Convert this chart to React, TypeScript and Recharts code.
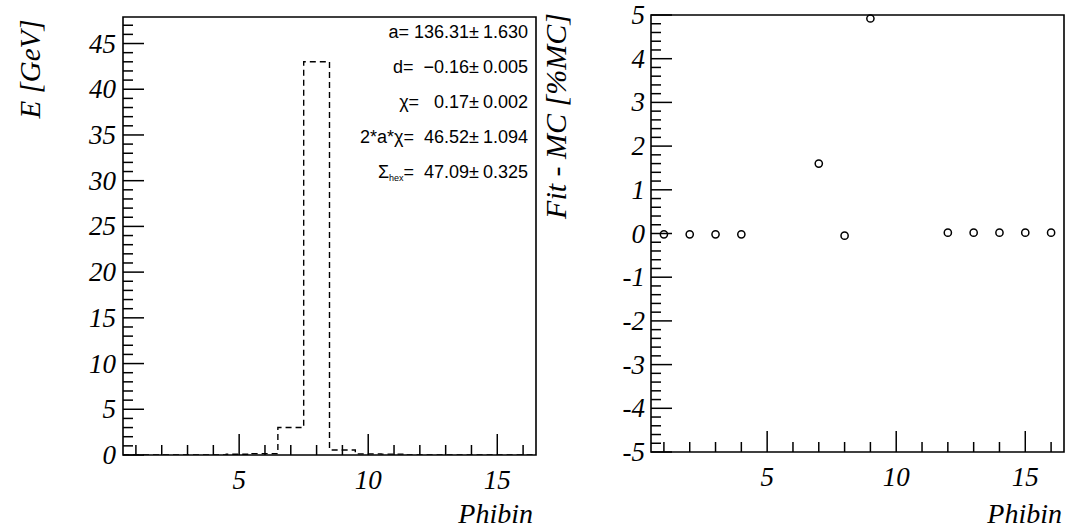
import React from 'react'
import { LineChart, Line, ScatterChart, Scatter, XAxis, YAxis, ReferenceArea } from 'recharts'

// energy per phi bin (left histogram)
const phiBins = [1, 2, 3, 4, 5, 6, 7, 8, 9, 10, 11, 12, 13, 14, 15, 16]
const binEnergy = [0, 0, 0, 0, 0.08, 0.15, 3.0, 43.0, 0.55, 0.12, 0.1, 0, 0, 0, 0, 0]

// fit - MC residuals in %MC (right panel)
const resBins = [1, 2, 3, 4, 7, 8, 9, 12, 13, 14, 15, 16]
const resValues = [-0.02, -0.02, -0.02, -0.02, 1.6, -0.05, 4.92, 0.02, 0.02, 0.02, 0.02, 0.02]

// axis ticks
const eTicks = [0, 1, 2, 3, 4, 5, 6, 7, 8, 9, 10, 11, 12, 13, 14, 15, 16, 17, 18, 19, 20, 21, 22, 23,
  24, 25, 26, 27, 28, 29, 30, 31, 32, 33, 34, 35, 36, 37, 38, 39, 40, 41, 42, 43, 44, 45, 46, 47]
const resTicks = [-5, -4.8, -4.6, -4.4, -4.2, -4, -3.8, -3.6, -3.4, -3.2, -3, -2.8, -2.6, -2.4, -2.2,
  -2, -1.8, -1.6, -1.4, -1.2, -1, -0.8, -0.6, -0.4, -0.2, 0, 0.2, 0.4, 0.6, 0.8, 1, 1.2, 1.4, 1.6,
  1.8, 2, 2.2, 2.4, 2.6, 2.8, 3, 3.2, 3.4, 3.6, 3.8, 4, 4.2, 4.4, 4.6, 4.8, 5]

// fit results box
const fitNames = ['a=', 'd=', 'χ=', '2*a*χ=', 'Σ']
const fitValues = [' 136.31', '  −0.16', '   0.17', '  46.52', '  47.09']
const fitErrors = ['1.630', '0.005', '0.002', '1.094', '0.325']

const SERIF = '"Liberation Serif", "DejaVu Serif", serif'
const SANS = '"Liberation Sans", Arial, sans-serif'

// histogram outline: one point per bin edge, drawn as steps
const histData = phiBins.map((b, i) => ({ x: b - 0.5, e: binEnergy[i] }))
histData.push({ x: 16.5, e: binEnergy[binEnergy.length - 1] })

const resData = resBins.map((b, i) => ({ x: b, y: resValues[i] }))

const isMajor = (v: number, step: number) => Math.abs(v / step - Math.round(v / step)) < 1e-6

function XTick(props: any) {
  const { x, y, payload } = props
  const major = isMajor(payload.value, 5)
  return (
    <g>
      <line x1={x} y1={y} x2={x} y2={y - (major ? 21 : 10)} stroke="#000" strokeWidth={1.5} />
      {major && (
        <text x={x} y={y + 34} textAnchor="middle" fontFamily={SERIF} fontStyle="italic" fontSize={27} fill="#000">
          {payload.value}
        </text>
      )}
    </g>
  )
}

function YTick(props: any) {
  const { x, y, payload, step, gap } = props
  const major = isMajor(payload.value, step)
  return (
    <g>
      <line x1={x} y1={y} x2={x + (major ? 21 : 10)} y2={y} stroke="#000" strokeWidth={1.5} />
      {major && (
        <text x={x - gap} y={y + 9} textAnchor="end" fontFamily={SERIF} fontStyle="italic" fontSize={27} fill="#000">
          {Math.round(payload.value)}
        </text>
      )}
    </g>
  )
}

export default function App() {
  return (
    <div style={{ position: 'absolute', left: 0, top: 0, width: 1070, height: 529, background: '#fff' }}>
      <div style={{ position: 'absolute', left: 0, top: 0 }}>
        <LineChart width={560} height={529} data={histData} margin={{ top: 17, right: 24, bottom: 73, left: 122 }}>
          <XAxis dataKey="x" type="number" domain={[0.5, 16.5]} ticks={phiBins} interval={0}
            height={1} tickSize={0} tickMargin={0} axisLine={false} tickLine={false}
            tick={(p: any) => <XTick {...p} />} />
          <YAxis type="number" domain={[0, 47.9]} ticks={eTicks} interval={0} allowDataOverflow
            width={1} tickSize={0} tickMargin={0} axisLine={false} tickLine={false}
            tick={(p: any) => <YTick {...p} step={5} gap={7} />} />
          <ReferenceArea x1={0.5} x2={16.5} y1={0} y2={47.9} fill="none" stroke="#000" strokeWidth={1.6} />
          <Line type="stepAfter" dataKey="e" stroke="#000" strokeWidth={1.4} strokeDasharray="6 4"
            dot={false} isAnimationActive={false} />
        </LineChart>
      </div>
      <div style={{ position: 'absolute', left: 560, top: 0 }}>
        <ScatterChart width={510} height={529} margin={{ top: 15, right: 6, bottom: 76, left: 90 }}>
          <XAxis dataKey="x" type="number" domain={[0.5, 16.5]} ticks={phiBins} interval={0}
            height={1} tickSize={0} tickMargin={0} axisLine={false} tickLine={false}
            tick={(p: any) => <XTick {...p} />} />
          <YAxis dataKey="y" type="number" domain={[-5, 5]} ticks={resTicks} interval={0}
            width={1} tickSize={0} tickMargin={0} axisLine={false} tickLine={false}
            tick={(p: any) => <YTick {...p} step={1} gap={6} />} />
          <ReferenceArea x1={0.5} x2={16.5} y1={-5} y2={5} fill="none" stroke="#000" strokeWidth={1.6} />
          <Scatter data={resData} isAnimationActive={false}
            shape={(p: any) => <circle cx={p.cx} cy={p.cy} r={3.6} fill="none" stroke="#000" strokeWidth={1.5} />} />
        </ScatterChart>
      </div>
      <svg width={1070} height={529} style={{ position: 'absolute', left: 0, top: 0, pointerEvents: 'none' }}>
        <text transform="translate(40,69) rotate(-90)" textAnchor="middle" fontFamily={SERIF} fontStyle="italic" fontSize={29} fill="#000">
          E [GeV]
        </text>
        <text transform="translate(566,116) rotate(-90)" textAnchor="middle" fontFamily={SERIF} fontStyle="italic" fontSize={30} fill="#000">
          Fit - MC [%MC]
        </text>
        <text x={533} y={523} textAnchor="end" fontFamily={SERIF} fontStyle="italic" fontSize={28} fill="#000">Phibin</text>
        <text x={1062} y={523} textAnchor="end" fontFamily={SERIF} fontStyle="italic" fontSize={28} fill="#000">Phibin</text>
        {fitNames.map((n, i) => (
          <g key={n} fontFamily={SANS} fontSize={18} fill="#000">
            <text x={479} y={38 + i * 35} textAnchor="end" xmlSpace="preserve">
              {i === 4 ? (
                <>
                  <tspan>Σ</tspan>
                  <tspan fontSize={9} dy={3}>hex</tspan>
                  <tspan dy={-3}>{'=' + fitValues[i] + '±'}</tspan>
                </>
              ) : (
                n + fitValues[i] + '±'
              )}
            </text>
            <text x={528} y={38 + i * 35} textAnchor="end">{fitErrors[i]}</text>
          </g>
        ))}
      </svg>
    </div>
  )
}
